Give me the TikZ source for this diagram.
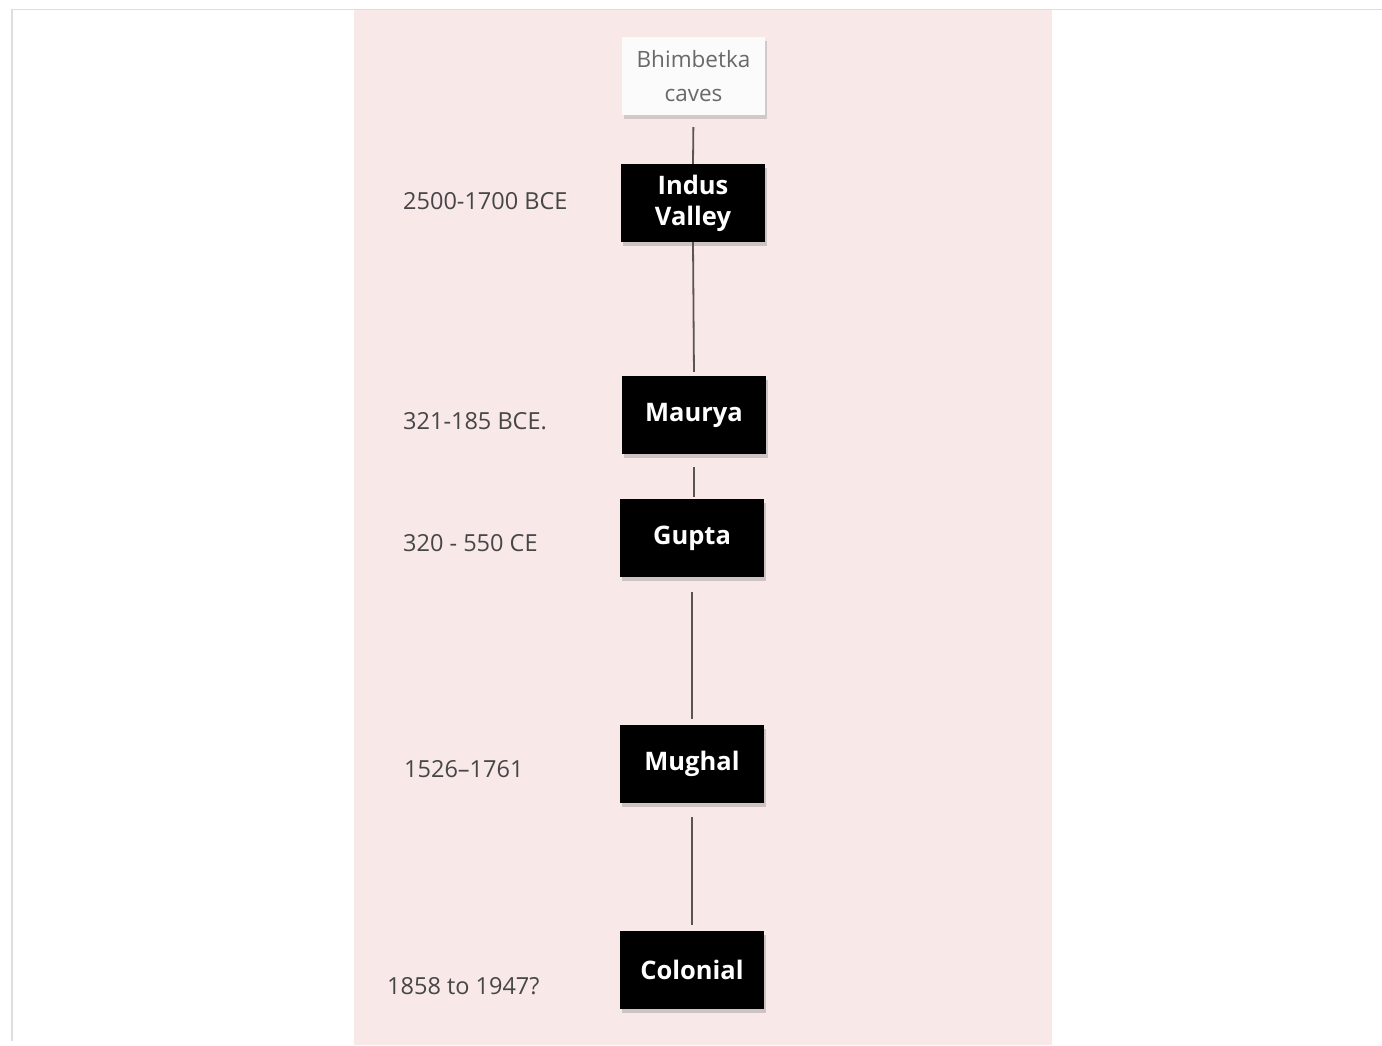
\documentclass[tikz,border=0pt]{standalone}
\usepackage{fontspec}
\setmainfont{Open Sans}
\usetikzlibrary{shadows}
\definecolor{pinkbg}{RGB}{248,232,232}
\definecolor{framegray}{RGB}{222,222,222}
\definecolor{linegray}{RGB}{90,85,85}
\definecolor{datecol}{RGB}{70,70,70}
\definecolor{startcol}{RGB}{105,105,105}
\tikzset{
  era/.style={fill=black, text=white, minimum width=144pt, minimum height=78pt,
    font=\fontsize{25.5}{31}\selectfont\bfseries, align=center, inner sep=0pt,
    drop shadow={shadow xshift=2pt, shadow yshift=-4pt, opacity=0.35}},
  startbox/.style={fill=white!97!gray, text=startcol, minimum width=143pt, minimum height=78pt,
    font=\fontsize{22.5}{34}\selectfont, align=center, inner sep=0pt,
    drop shadow={shadow xshift=2pt, shadow yshift=-4pt, opacity=0.3}},
  datelab/.style={anchor=west, text=datecol, font=\fontsize{23.5}{27}\selectfont, inner sep=0pt},
  conn/.style={draw=linegray, line width=1.8pt}
}
\begin{document}
\begin{tikzpicture}[x=1pt,y=-1pt]
\useasboundingbox (0,0) rectangle (1382,1045);
\fill[white] (0,0) rectangle (1382,1045);
\draw[framegray, line width=1.2pt] (12,1041) -- (12,9.5) -- (1382,9.5);
\fill[pinkbg] (354,10) rectangle (1052,1045);

\node[startbox] (bh) at (693.5,76) {Bhimbetka\\caves};
\node[era] (iv) at (693,203) {Indus\\Valley};
\node[era] (ma) at (694,415) {Maurya};
\node[era] (gu) at (692,538) {Gupta};
\node[era] (mu) at (692,764) {Mughal};
\node[era] (co) at (692,970) {Colonial};

\draw[conn, shorten <=12pt] (bh.south) -- (iv.north);
\draw[conn, shorten >=4pt] (iv.south) -- (ma.north);
\draw[conn, shorten <=13pt, shorten >=2pt] (ma.south) -- (ma.south |- gu.north);
\draw[conn, shorten <=15pt, shorten >=6pt] (gu.south) -- (mu.north);
\draw[conn, shorten <=14pt, shorten >=6pt] (mu.south) -- (co.north);

\node[datelab] (d1) at (403,201) {2500-1700 BCE};
\node[datelab] (d2) at (403,421) {321-185 BCE.};
\node[datelab] (d3) at (403,543) {320 - 550 CE};
\node[datelab] (d4) at (404,769) {1526–1761};
\node[datelab] (d5) at (387,986) {1858 to 1947?};
\end{tikzpicture}
\end{document}
